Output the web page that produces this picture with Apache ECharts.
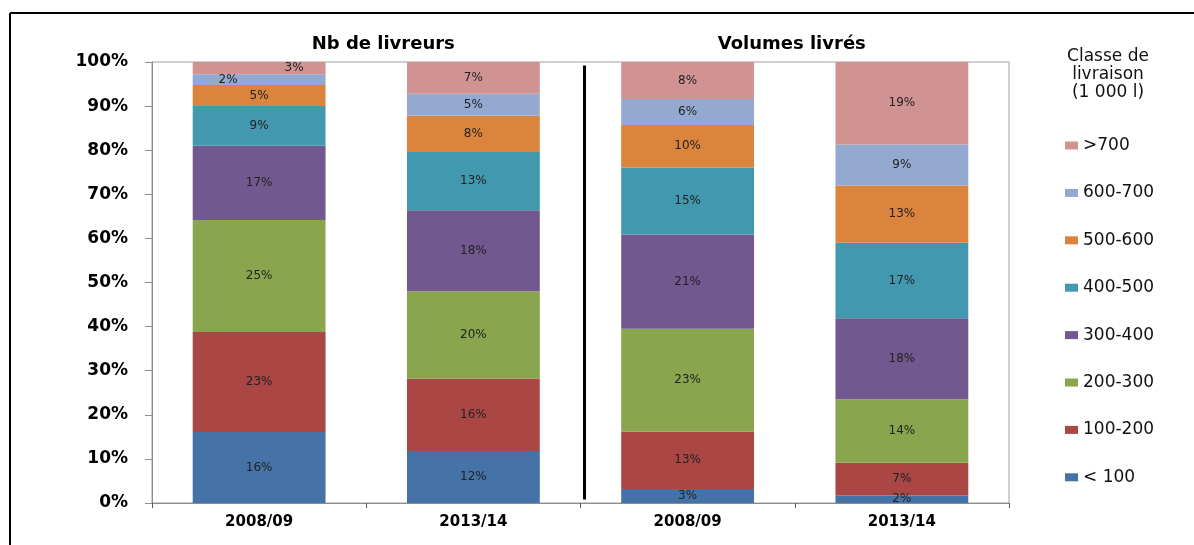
<!DOCTYPE html>
<html>
<head>
<meta charset="utf-8">
<script src="https://cdn.jsdelivr.net/npm/echarts@6/dist/echarts.min.js"></script>
<style>
html,body{margin:0;padding:0;background:#fff;}
#c{width:1194px;height:545px;}
</style>
</head>
<body>
<div id="c"></div>
<script>
// ---- data ----
var categories = ['2008/09', '2013/14', '2008/09', '2013/14'];
var groupTitles = ['Nb de livreurs', 'Volumes livrés'];
var legendTitle = 'Classe de\nlivraison\n(1 000 l)';
var classNames = ['< 100', '100-200', '200-300', '300-400', '400-500', '500-600', '600-700', '>700'];
var lt100   = [16.1, 11.8, 3.2, 1.7];
var c100200 = [22.7, 16.4, 13.0, 7.4];
var c200300 = [25.4, 19.8, 23.3, 14.4];
var c300400 = [16.8, 18.4, 21.4, 18.4];
var c400500 = [9.0, 13.2, 15.2, 17.1];
var c500600 = [4.8, 8.2, 9.6, 13.0];
var c600700 = [2.4, 5.0, 5.9, 9.3];
var gt700   = [2.8, 7.2, 8.4, 18.7];
var yTicks = [0, 10, 20, 30, 40, 50, 60, 70, 80, 90, 100];

// ---- styling ----
var colors = ['#4572A7', '#AA4643', '#89A54E', '#71588F', '#4198AF', '#DB843D', '#93A9CF', '#D19392'];
var seriesValues = [lt100, c100200, c200300, c300400, c400500, c500600, c600700, gt700];
// label nudges (Excel overlap avoidance) : [seriesIndex, dataIndex, dx]
var labelNudges = [[6, 0, -31], [7, 0, 35]];

var series = seriesValues.map(function (vals, si) {
  return {
    name: classNames[si],
    type: 'bar',
    stack: 'total',
    barCategoryGap: '38%',
    itemStyle: { color: colors[si] },
    label: {
      show: true,
      position: 'inside',
      color: '#222',
      fontFamily: 'DejaVu Sans',
      fontSize: 12,
      formatter: function (p) { return Math.round(p.value) + '%'; }
    },
    data: vals.map(function (v, di) {
      var item = { value: v };
      labelNudges.forEach(function (n) {
        if (n[0] === si && n[1] === di) item.label = { offset: [n[2], 0] };
      });
      return item;
    })
  };
});

var chart = echarts.init(document.getElementById('c'), null, { renderer: 'canvas' });
var option = {
  animation: false,
  backgroundColor: '#fff',
  grid: {
    left: 152, right: 185, top: 62, bottom: 42,
    show: true, borderColor: '#a0a0a0', borderWidth: 1, backgroundColor: 'transparent'
  },
  legend: {
    orient: 'vertical',
    left: 1060,
    top: 132,
    itemWidth: 13,
    itemHeight: 8,
    itemGap: 30.4,
    icon: 'rect',
    data: classNames.slice().reverse(),
    textStyle: { fontFamily: 'DejaVu Sans', fontSize: 17, color: '#111', padding: [0, 0, 0, 0] }
  },
  xAxis: {
    type: 'category',
    data: categories,
    axisLine: { lineStyle: { color: '#8c8c8c', width: 1 } },
    axisTick: { show: true, length: 5, alignWithLabel: false, lineStyle: { color: '#555' } },
    axisLabel: { color: '#000', fontFamily: 'DejaVu Sans', fontWeight: 'bold', fontSize: 15, margin: 12 }
  },
  yAxis: {
    type: 'value',
    min: 0, max: 100, interval: 10,
    axisLine: { show: true, lineStyle: { color: '#8c8c8c', width: 1 } },
    axisTick: { show: true, length: 7, lineStyle: { color: '#8c8c8c' } },
    splitLine: { show: false },
    axisLabel: {
      color: '#000', fontFamily: 'DejaVu Sans', fontWeight: 'bold', fontSize: 17, margin: 24,
      formatter: function (v) { return yTicks.indexOf(v) >= 0 ? v + '%' : ''; }
    }
  },
  series: series
};
chart.setOption(option);

// decorations computed from the axes
var b1 = chart.convertToPixel({ xAxisIndex: 0 }, 1);
var b2 = chart.convertToPixel({ xAxisIndex: 0 }, 2);
var sepX = (b1 + b2) / 2 + 4;
var yTop = chart.convertToPixel({ yAxisIndex: 0 }, 99.2);
var yBot = chart.convertToPixel({ yAxisIndex: 0 }, 0.8);
var c0 = chart.convertToPixel({ xAxisIndex: 0 }, 0);
var c3 = chart.convertToPixel({ xAxisIndex: 0 }, 3);
var t1x = (c0 + b1) / 2 + 17;
var t2x = (b2 + c3) / 2 - 3;

chart.setOption({
  graphic: [
    { type: 'line', shape: { x1: 10, y1: 13, x2: 1194, y2: 13 }, style: { stroke: '#000', lineWidth: 2 } },
    { type: 'line', shape: { x1: 10, y1: 13, x2: 10, y2: 545 }, style: { stroke: '#000', lineWidth: 2 } },
    { type: 'line', shape: { x1: sepX, y1: yTop, x2: sepX, y2: yBot }, style: { stroke: '#000', lineWidth: 3 } },
    { type: 'text', x: t1x, y: 44, style: { text: groupTitles[0], fill: '#000', font: 'bold 18px "DejaVu Sans"', textAlign: 'center', textVerticalAlign: 'middle' } },
    { type: 'text', x: t2x, y: 44, style: { text: groupTitles[1], fill: '#000', font: 'bold 18px "DejaVu Sans"', textAlign: 'center', textVerticalAlign: 'middle' } },
    { type: 'text', x: 1108, y: 48, style: { text: legendTitle, fill: '#111', font: '17px "DejaVu Sans"', textAlign: 'center', textVerticalAlign: 'top', lineHeight: 18 } }
  ]
});
</script>
</body>
</html>
